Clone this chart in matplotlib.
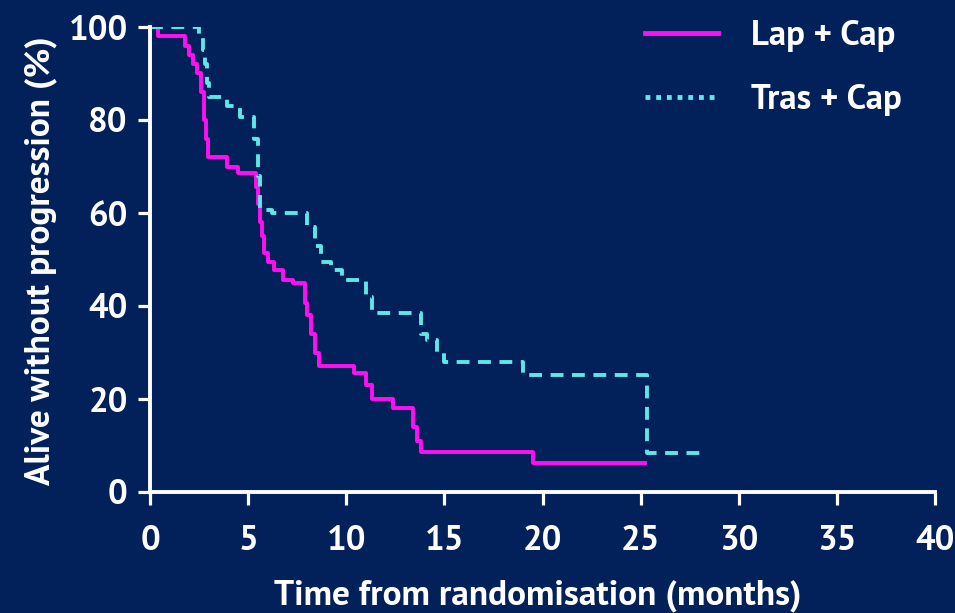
import matplotlib
matplotlib.use("Agg")
import matplotlib.pyplot as plt
from matplotlib.lines import Line2D
from matplotlib import font_manager

# ---- data ----
lap_t = [0, 0.4, 1.8, 2.0, 2.2, 2.4, 2.6, 2.75, 2.85, 2.95, 3.9, 4.5, 5.4, 5.5, 5.6, 5.7, 5.8, 6.0, 6.3, 6.8, 7.3, 7.9, 8.0, 8.2, 8.4, 8.6, 10.4, 11.0, 11.3, 12.4, 13.4, 13.6, 13.8, 19.5, 25.2]
lap_s = [100, 98, 96, 94, 92, 90, 86, 80, 76, 72, 70, 68.5, 65.6, 62, 58, 55, 51.4, 49.5, 47.7, 45.5, 45, 40.6, 38, 34, 30, 27, 25.6, 23, 20, 18, 14, 11, 8.6, 6.2, 6.2]
tras_t = [0, 2.5, 2.7, 2.8, 2.9, 3.0, 3.9, 4.6, 5.3, 5.5, 5.6, 6.2, 8.0, 8.4, 8.7, 9.2, 9.8, 11.0, 11.3, 13.8, 14.1, 14.6, 15.0, 19.0, 25.3, 28.0]
tras_s = [100, 98, 95, 92, 88, 85, 83, 80.6, 76, 68, 60.6, 60, 57, 53, 49.5, 47.7, 45.6, 42, 38.5, 34, 32.7, 30, 28, 25.2, 8.4, 8.4]
labels = ["Lap + Cap", "Tras + Cap"]
xticks = [0, 5, 10, 15, 20, 25, 30, 35, 40]
yticks = [0, 20, 40, 60, 80, 100]
xlabel = "Time from randomisation (months)"
ylabel = "Alive without progression (%)"

BG = "#02205a"
MAG = "#ff10f0"
TEAL = "#5fe6e6"
FS = 25
LFS = 25.5

fl = font_manager.fontManager.ttflist
def has_bold(n):
    return any(f.name == n and f.weight in (700, 'bold') for f in fl)
fam = next((n for n in ["PT Sans", "Source Sans Pro", "Fira Sans", "Asap", "Lato"]
            if has_bold(n)), "DejaVu Sans")
plt.rcParams['font.family'] = [fam, 'DejaVu Sans']

fig = plt.figure(figsize=(9.55, 6.13), dpi=100, facecolor=BG)
ax = fig.add_axes([150/955, 121/613, 785/955, 465/613], facecolor=BG)

ax.plot(lap_t, lap_s, drawstyle='steps-post', color=MAG, lw=2.8)
ax.plot(tras_t, tras_s, drawstyle='steps-post', color=TEAL, lw=2.8, dashes=(3.3, 2.2))

ax.set_xlim(0, 40)
ax.set_ylim(0, 100)
ax.set_xticks(xticks)
ax.set_yticks(yticks)
ax.set_xticklabels([str(v) for v in xticks])
ax.set_yticklabels([str(v) for v in yticks])
for s in ['top', 'right']:
    ax.spines[s].set_visible(False)
for s in ['left', 'bottom']:
    ax.spines[s].set_color('white')
    ax.spines[s].set_linewidth(2.8)
ax.tick_params(colors='white', width=2.3, length=9, direction='out', labelsize=FS, pad=7)
for lab in ax.get_xticklabels() + ax.get_yticklabels():
    lab.set_fontweight('bold')
ax.tick_params(axis='x', pad=14.5)
ax.set_xlabel(xlabel, color='white', fontsize=LFS, fontweight='bold')
ax.set_ylabel(ylabel, color='white', fontsize=LFS, fontweight='bold')
ax.xaxis.set_label_coords(0.494, -0.187)
ax.yaxis.set_label_coords(-0.118, 0.497)

handles = [Line2D([], [], color=MAG, lw=3.5),
           Line2D([], [], color=TEAL, lw=3.5, ls=(0, (1, 1.2)))]
leg = fig.legend(handles, labels, loc='upper left', bbox_to_anchor=(645/955, 1 - 20/613),
                 frameon=False, handlelength=2.1, handletextpad=0.95, labelspacing=0.93,
                 borderpad=0, borderaxespad=0,
                 prop={'size': FS, 'weight': 'bold'})
for t in leg.get_texts():
    t.set_color('white')
fig.savefig("out.png", dpi=100, facecolor=BG)
